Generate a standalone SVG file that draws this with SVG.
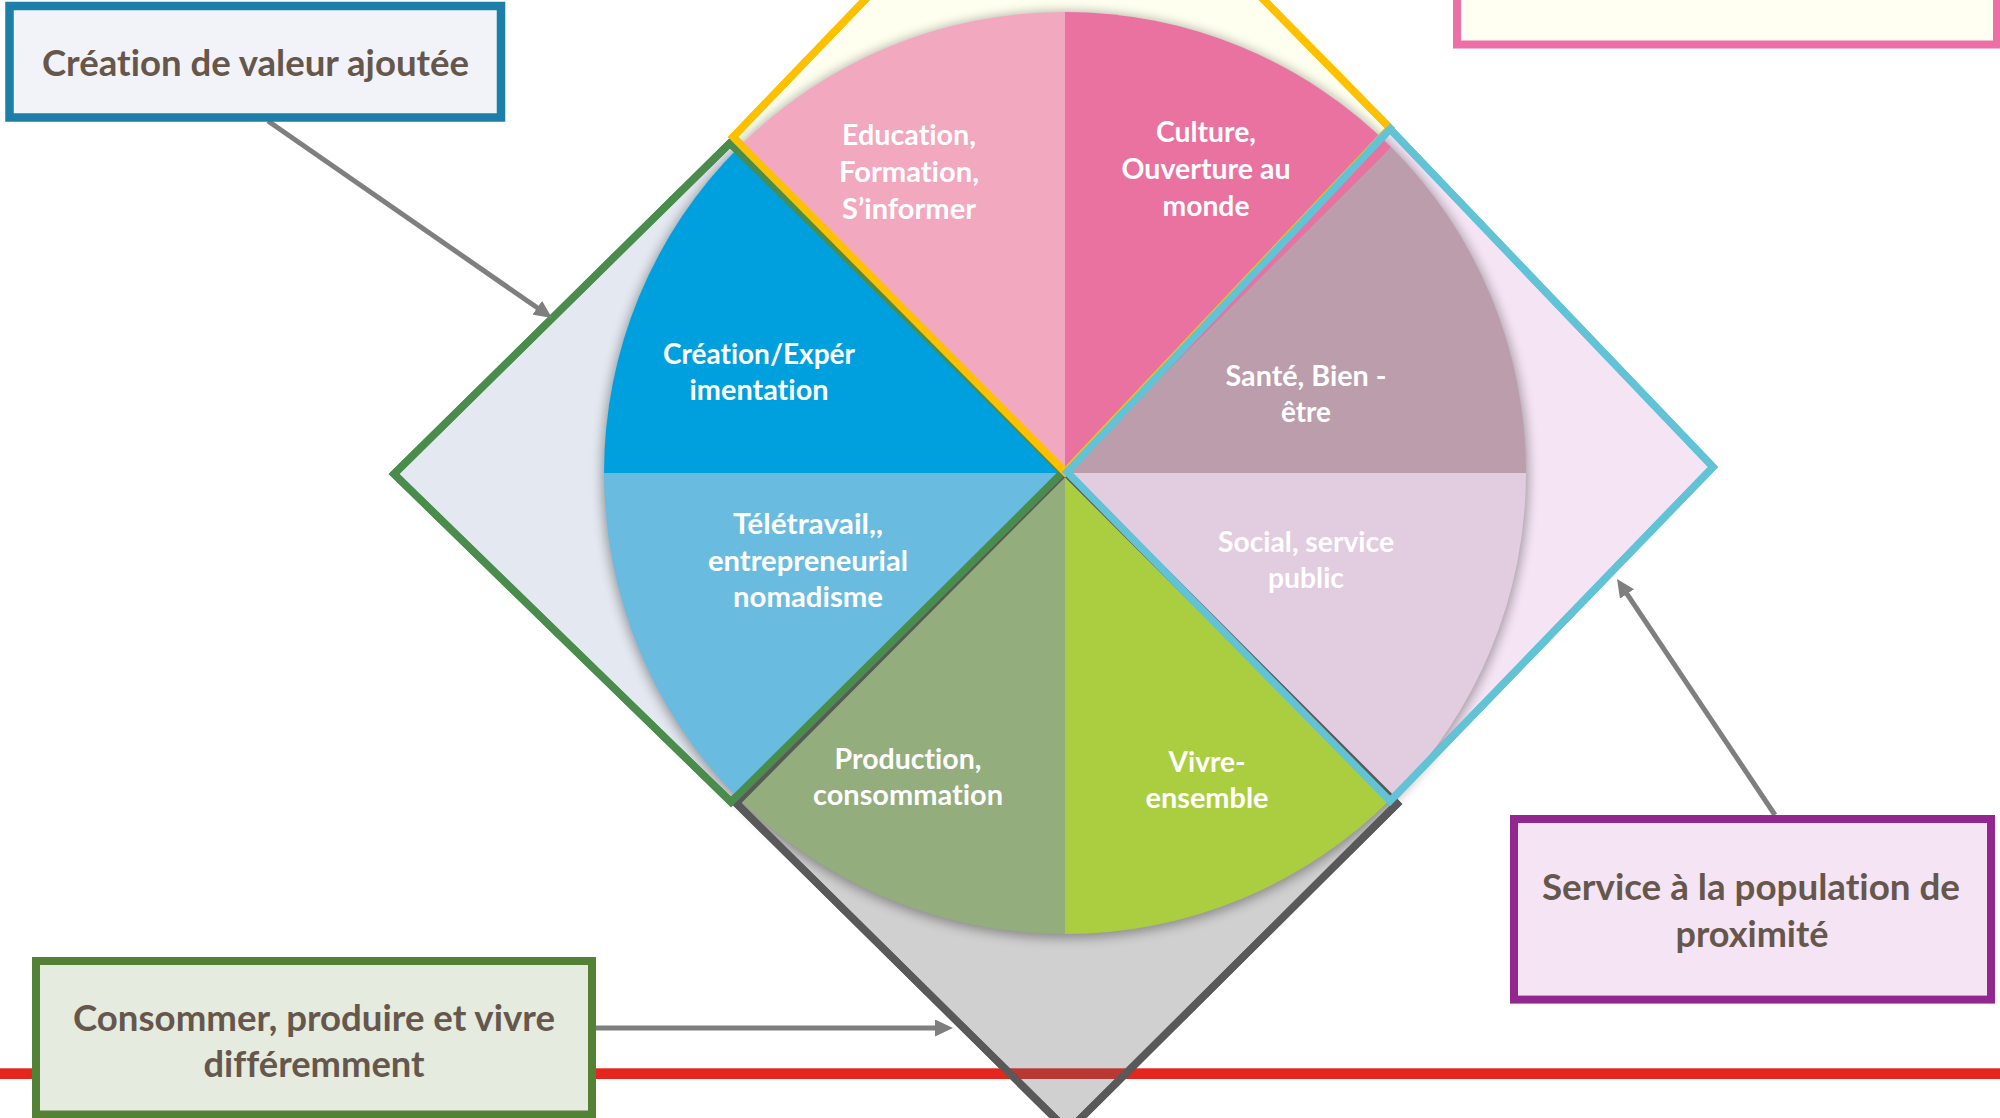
<svg xmlns="http://www.w3.org/2000/svg" xmlns:xlink="http://www.w3.org/1999/xlink" width="2000" height="1118" viewBox="0 0 2000 1118">
<defs>
<style>
.t{font-family:Lato,"Liberation Sans",sans-serif;font-weight:700;text-anchor:middle;font-variant-ligatures:none}
.lbl{font-size:28.5px;fill:#FFFFFF}
.box{font-size:36px;fill:#66574C}
.s-y{stroke:#FFC000;stroke-width:7.5;stroke-linejoin:miter}
.s-g{stroke:#4A8C4C;stroke-width:7.5;stroke-linejoin:miter}
.s-c{stroke:#62C3D6;stroke-width:7.5;stroke-linejoin:miter}
.s-k{stroke:#595959;stroke-width:7.5;stroke-linejoin:miter}
.arrow{stroke:#7F7F7F;stroke-width:5;fill:none;marker-end:url(#ah)}
</style>
<marker id="ah" markerUnits="userSpaceOnUse" markerWidth="18" markerHeight="17" refX="8" refY="8.5" orient="auto">
<path d="M0,0 L18,8.5 L0,17 Z" fill="#7F7F7F"/>
</marker>
<filter id="sh" x="-10%" y="-10%" width="120%" height="120%">
<feGaussianBlur stdDeviation="6"/>
</filter>
<clipPath id="clipGray"><polygon points="1065,472 1397,804 1068,1131 736,803"/></clipPath>
</defs>
<rect x="0" y="0" width="2000" height="1118" fill="#FFFFFF"/>

<g id="red-line"><rect x="0" y="1068.3" width="2000" height="10.7" fill="#E4261E"/></g>

<g id="zone-yellow" fill="#FFFFF0"><polygon id="dy" class="s-y" points="733,137 1062,-205 1390,128 1065,472"/></g>
<g id="zone-gray" fill="#D0D0D0"><polygon id="dk" class="s-k" points="1065,472 1397,804 1068,1131 736,803"/></g>
<g id="zone-green" fill="#E4E8F0"><polygon id="dg" class="s-g" points="394,474 730,143 1063,472 731,802"/></g>
<g id="zone-cyan" fill="#F5E4F4"><polygon id="dc" class="s-c" points="1067,472 1390,129 1713,467 1390,801"/></g>
<g id="red-over-gray" clip-path="url(#clipGray)"><rect x="700" y="1068.3" width="800" height="10.7" fill="#BA3834"/></g>

<g id="pie">
<circle cx="1065" cy="475" r="463" fill="#000000" opacity="0.35" filter="url(#sh)"/>
<g id="slice-education"><path d="M1065,473 L1065,12 A461,461 0 0 0 739,147 Z" fill="#F2A8BF"/>
<text class="t lbl" x="909" y="144.5" textLength="134" lengthAdjust="spacingAndGlyphs">Education,</text>
<text class="t lbl" x="909" y="181.5" textLength="140" lengthAdjust="spacingAndGlyphs">Formation,</text>
<text class="t lbl" x="909" y="218.5" textLength="134" lengthAdjust="spacingAndGlyphs">S’informer</text></g>
<g id="slice-creation"><path d="M1065,473 L739,147 A461,461 0 0 0 604,473 Z" fill="#00A0DF"/>
<text class="t lbl" x="759" y="363.5" textLength="192" lengthAdjust="spacingAndGlyphs">Création/Expér</text>
<text class="t lbl" x="759" y="399.5" textLength="139" lengthAdjust="spacingAndGlyphs">imentation</text></g>
<g id="slice-teletravail"><path d="M1065,473 L604,473 A461,461 0 0 0 739,799 Z" fill="#6ABBE0"/>
<text class="t lbl" x="808" y="533.5" textLength="150" lengthAdjust="spacingAndGlyphs" fill="#F0F4F8">Télétravail,,</text>
<text class="t lbl" x="808" y="570.5" textLength="200" lengthAdjust="spacingAndGlyphs" fill="#F0F4F8">entrepreneurial</text>
<text class="t lbl" x="808" y="606.5" textLength="150" lengthAdjust="spacingAndGlyphs" fill="#F0F4F8">nomadisme</text></g>
<g id="slice-production"><path d="M1065,473 L739,799 A461,461 0 0 0 1065,934 Z" fill="#93AD7D"/>
<text class="t lbl" x="908" y="768.5" textLength="147" lengthAdjust="spacingAndGlyphs">Production,</text>
<text class="t lbl" x="908" y="804.5" textLength="190" lengthAdjust="spacingAndGlyphs">consommation</text></g>
<g id="slice-vivre"><path d="M1065,473 L1065,934 A461,461 0 0 0 1391,799 Z" fill="#ABCE40"/>
<text class="t lbl" x="1207" y="771.5" textLength="77" lengthAdjust="spacingAndGlyphs">Vivre-</text>
<text class="t lbl" x="1207" y="807.5" textLength="123" lengthAdjust="spacingAndGlyphs">ensemble</text></g>
<g id="slice-social"><path d="M1065,473 L1391,799 A461,461 0 0 0 1526,473 Z" fill="#E2CCDF"/>
<text class="t lbl" x="1306" y="551.5" textLength="176" lengthAdjust="spacingAndGlyphs" fill="#F4E2F1">Social, service</text>
<text class="t lbl" x="1306" y="587.5" textLength="76" lengthAdjust="spacingAndGlyphs" fill="#F4E2F1">public</text></g>
<g id="slice-sante"><path d="M1065,473 L1526,473 A461,461 0 0 0 1391,147 Z" fill="#BC9DAB"/>
<text class="t lbl" x="1306" y="385.5" textLength="161" lengthAdjust="spacingAndGlyphs" fill="#F1E3F0">Santé, Bien -</text>
<text class="t lbl" x="1306" y="421.5" textLength="50" lengthAdjust="spacingAndGlyphs" fill="#F1E3F0">être</text></g>
<g id="slice-culture"><path d="M1065,473 L1391,147 A461,461 0 0 0 1065,12 Z" fill="#EA72A0"/>
<text class="t lbl" x="1206" y="141.5" textLength="100" lengthAdjust="spacingAndGlyphs">Culture,</text>
<text class="t lbl" x="1206" y="178.5" textLength="169" lengthAdjust="spacingAndGlyphs">Ouverture au</text>
<text class="t lbl" x="1206" y="215.5" textLength="87" lengthAdjust="spacingAndGlyphs">monde</text></g>
</g>

<g id="zone-outlines" fill="none">
<use href="#dk" xlink:href="#dk"/>
<use href="#dg" xlink:href="#dg"/>
<use href="#dy" xlink:href="#dy"/>
<use href="#dc" xlink:href="#dc"/>
</g>

<g id="connectors">
<line class="arrow" x1="268" y1="121" x2="543.8" y2="312.3"/>
<line class="arrow" x1="596" y1="1028" x2="943" y2="1028"/>
<line class="arrow" x1="1775" y1="815" x2="1622.6" y2="587.3"/>
</g>

<g id="box-valeur">
<rect x="9.5" y="6" width="491.5" height="111.5" fill="#F2F3F8" stroke="#1B7FA8" stroke-width="8.5"/>
<text class="t box" x="255.5" y="75.5" textLength="427" lengthAdjust="spacingAndGlyphs">Création de valeur ajoutée</text>
</g>
<g id="box-top-right">
<rect x="1457" y="-10" width="540" height="54.5" fill="#FFFFF2" stroke="#EC6FA8" stroke-width="8"/>
</g>
<g id="box-consommer">
<rect x="36" y="961" width="556" height="153.5" fill="#E5EBDF" stroke="#538135" stroke-width="8"/>
<text class="t box" x="314" y="1030.5" textLength="482" lengthAdjust="spacingAndGlyphs">Consommer, produire et vivre</text>
<text class="t box" x="314" y="1076.5" textLength="221" lengthAdjust="spacingAndGlyphs">différemment</text>
</g>
<g id="box-service">
<rect x="1514" y="819" width="477" height="180.6" fill="#F5E4F4" stroke="#92278F" stroke-width="8"/>
<text class="t box" x="1751" y="900" textLength="418" lengthAdjust="spacingAndGlyphs">Service à la population de</text>
<text class="t box" x="1752" y="947" textLength="153" lengthAdjust="spacingAndGlyphs">proximité</text>
</g>
</svg>
